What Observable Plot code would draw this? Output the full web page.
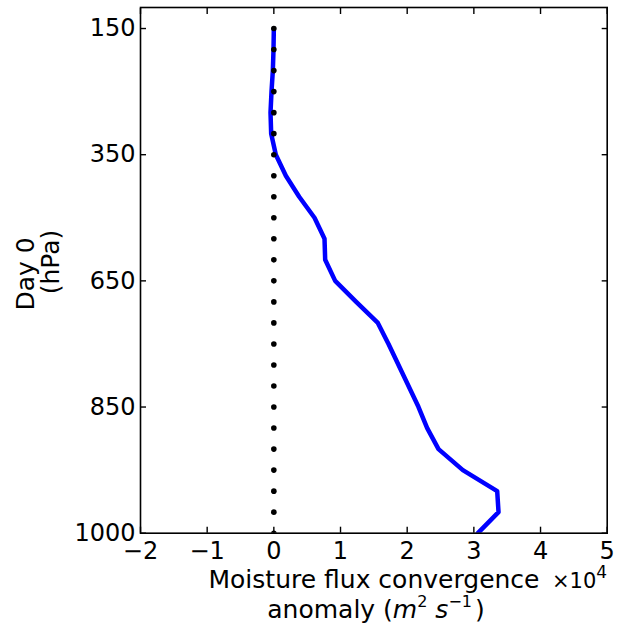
<!DOCTYPE html>
<html><head><meta charset="utf-8">
<script src="https://cdn.jsdelivr.net/npm/d3@7"></script>
<script src="https://cdn.jsdelivr.net/npm/@observablehq/plot@0.6"></script>
<style>body{margin:0;background:#fff} svg{display:block}</style>
</head><body><div id="chart"></div>
<script>
// Pressure levels (hPa), drawn evenly spaced by index
const levels = [150,175,200,225,250,300,350,400,450,500,550,600,650,700,750,775,800,825,850,875,900,925,950,975,1000];
// Moisture flux convergence anomaly (x 10^4 m^2 s^-1)
const fluxE4 = [0.0,-0.005,-0.015,-0.035,-0.05,-0.04,0.03,0.18,0.38,0.61,0.76,0.77,0.92,1.235,1.56,1.72,1.87,2.02,2.17,2.30,2.47,2.835,3.35,3.37,3.06];
// Zero reference (dotted)
const zeroRef = levels.map(() => 0);
const yTickLevels = [150,350,650,850,1000];
const xTicks = [-2,-1,0,1,2,3,4,5];
const xDomain = [-2,5];
const yLabelLines = ["Day 0","(hPa)"];
const xLabelLine1 = "Moisture flux convergence";

const rows = levels.map((p,i) => ({p, i, flux: fluxE4[i], zero: zeroRef[i]}));
const yTickIdx = yTickLevels.map(v => levels.indexOf(v));

const W = 620, H = 625, mL = 140, mR = 13.3, mT = 7, mB = 92.3;
const font = "'DejaVu Sans', sans-serif";

const plot = Plot.plot({
  width: W, height: H,
  marginLeft: mL, marginRight: mR, marginTop: mT, marginBottom: mB,
  style: {fontFamily: font, fontSize: "24px", color: "black", background: "white"},
  x: {domain: xDomain},
  y: {domain: [-1, levels.length - 1], reverse: true},
  marks: [
    Plot.line(rows, {x: "flux", y: "i", stroke: "#0000ff", strokeWidth: 4.5, strokeLinejoin: "round", clip: true}),
    Plot.dot(rows, {x: "zero", y: "i", r: 2.8, fill: "black", stroke: null, clip: true}),
    Plot.frame({stroke: "black", strokeWidth: 1.6}),
    Plot.axisX({anchor: "bottom", ticks: xTicks, tickSize: -6, tickPadding: 15, tickFormat: d3.format("d"), fontSize: 24, label: null, strokeWidth: 1.4}),
    Plot.axisX({anchor: "top", ticks: xTicks, tickSize: -6, tickFormat: () => "", label: null, strokeWidth: 1.4}),
    Plot.axisY({anchor: "left", ticks: yTickIdx, tickSize: -6, tickPadding: 11, tickFormat: i => String(levels[i]), fontSize: 24, label: null, strokeWidth: 1.4}),
    Plot.axisY({anchor: "right", ticks: yTickIdx, tickSize: -6, tickFormat: () => "", label: null, strokeWidth: 1.4})
  ]
});
document.getElementById("chart").appendChild(plot);

const svg = d3.select(plot);
const txt = () => svg.append("text").attr("font-family", font).attr("fill", "black");
// x label line 1
txt().attr("x", 374).attr("y", 588).attr("text-anchor", "middle").attr("font-size", 25).text(xLabelLine1);
// offset text x10^4
const off = txt().attr("x", 552).attr("y", 588).attr("text-anchor", "start").attr("font-size", 21);
off.append("tspan").text("×10");
off.append("tspan").attr("dy", -10).attr("font-size", 17).text("4");
// x label line 2
const l2 = txt().attr("x", 376).attr("y", 618).attr("text-anchor", "middle").attr("font-size", 25);
l2.append("tspan").text("anomaly (");
l2.append("tspan").attr("font-style", "italic").text("m");
l2.append("tspan").attr("dy", -11).attr("font-size", 16).text("2");
l2.append("tspan").attr("dy", 11).text(" ");
l2.append("tspan").attr("font-style", "italic").text("s");
l2.append("tspan").attr("dy", -11).attr("font-size", 16).text("−1");
l2.append("tspan").attr("dy", 11).attr("dx", 3).text(")");
// y label (two rotated lines)
txt().attr("transform", "translate(33.5,274) rotate(-90)").attr("text-anchor", "middle").attr("font-size", 25).text(yLabelLines[0]);
txt().attr("transform", "translate(59,262) rotate(-90)").attr("text-anchor", "middle").attr("font-size", 25).text(yLabelLines[1]);
</script></body></html>
